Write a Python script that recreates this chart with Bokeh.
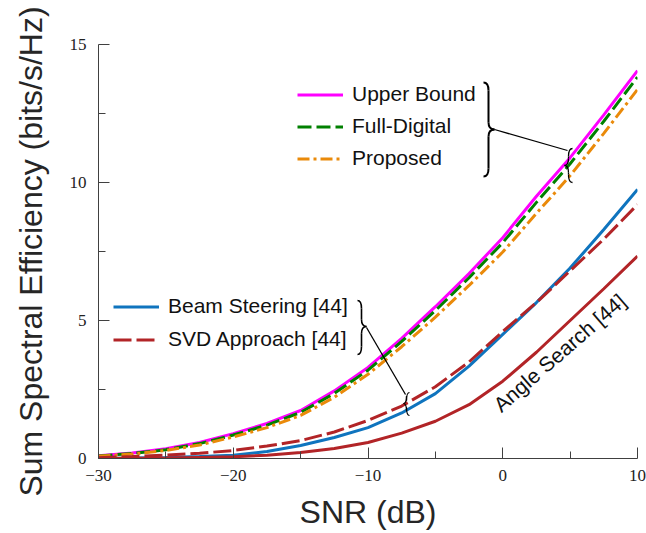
from bokeh.plotting import figure
from bokeh.models import Range1d, FixedTicker, Legend, LegendItem
from bokeh.core.properties import value
from bokeh.embed import file_html
from bokeh.resources import INLINE

# ---------------- data ----------------
snr_db = [-30, -27.5, -25, -22.5, -20, -17.5, -15, -12.5, -10, -7.5, -5, -2.5, 0, 2.5, 5, 7.5, 10]

upper_bound   = [0.10, 0.20, 0.35, 0.58, 0.90, 1.27, 1.74, 2.45, 3.30, 4.35, 5.50, 6.70, 8.00, 9.50, 10.90, 12.45, 14.05]
full_digital  = [0.09, 0.18, 0.32, 0.54, 0.85, 1.21, 1.67, 2.36, 3.20, 4.24, 5.36, 6.55, 7.82, 9.28, 10.68, 12.22, 13.82]
proposed      = [0.08, 0.16, 0.29, 0.49, 0.78, 1.12, 1.56, 2.22, 3.05, 4.05, 5.12, 6.27, 7.48, 8.88, 10.25, 11.78, 13.37]
beam_steering = [0.01, 0.02, 0.04, 0.07, 0.12, 0.25, 0.47, 0.76, 1.12, 1.65, 2.35, 3.35, 4.50, 5.65, 6.90, 8.30, 9.75]
svd_approach  = [0.03, 0.07, 0.12, 0.19, 0.29, 0.45, 0.65, 0.96, 1.38, 1.90, 2.60, 3.50, 4.60, 5.65, 6.80, 7.95, 9.20]
angle_search  = [0.00, 0.01, 0.02, 0.04, 0.06, 0.12, 0.22, 0.36, 0.58, 0.92, 1.35, 1.95, 2.80, 3.85, 5.00, 6.15, 7.33]

x_ticks = [-30, -20, -10, 0, 10]
x_minor = [-25, -15, -5, 5]
y_ticks = [0, 5, 10, 15]
y_minor = [2.5, 7.5, 12.5]

labels_top = ["Upper Bound", "Full-Digital", "Proposed"]
labels_bottom = ["Beam Steering [44]", "SVD Approach [44]"]
curve_note = "Angle Search [44]"

# ---------------- styling ----------------
MAGENTA = "#FF00FF"
GREEN = "#008000"
ORANGE = "#EA8A0A"
BLUE = "#0F74BE"
RED = "#B22427"
AXIS = "#404040"
SANS = "Liberation Sans"
SERIF = "Liberation Serif"

p = figure(width=646, height=533, x_range=Range1d(-30, 10), y_range=Range1d(0, 15),
           output_backend="svg", toolbar_location=None,
           min_border_left=98, min_border_right=9, min_border_top=44, min_border_bottom=75)
p.outline_line_color = None
p.xgrid.visible = False
p.ygrid.visible = False
p.background_fill_color = "white"

# axes
for ax, ticks, minor in ((p.xaxis[0], x_ticks, x_minor), (p.yaxis[0], y_ticks, y_minor)):
    ax.ticker = FixedTicker(ticks=ticks, minor_ticks=minor)
    ax.major_tick_in = 11
    ax.major_tick_out = 0
    ax.minor_tick_in = 7
    ax.minor_tick_out = 0
    ax.axis_line_color = AXIS
    ax.major_tick_line_color = AXIS
    ax.minor_tick_line_color = AXIS
    ax.major_label_text_font = SERIF
    ax.major_label_text_font_size = "17px"
    ax.major_label_text_color = "#222222"
    ax.axis_label_text_font = SANS
    ax.axis_label_text_font_size = "32px"
    ax.axis_label_text_font_style = "normal"
    ax.axis_label_text_color = "#262626"
    ax.major_label_overrides = {t: (str(t).replace("-", "\u2212")) for t in ticks}

p.xaxis.axis_label = "SNR (dB)"
p.yaxis.axis_label = "Sum Spectral Efficiency (bits/s/Hz)"
p.xaxis.major_label_standoff = 11
p.yaxis.major_label_standoff = 12
p.xaxis.axis_label_standoff = 10
p.yaxis.axis_label_standoff = 18

# curves
LW = 3
r_ub = p.line(snr_db, upper_bound, line_color=MAGENTA, line_width=LW)
r_fd = p.line(snr_db, full_digital, line_color=GREEN, line_width=LW, line_dash="14 5")
r_pr = p.line(snr_db, proposed, line_color=ORANGE, line_width=LW, line_dash="12 4 3 4")
r_bs = p.line(snr_db, beam_steering, line_color=BLUE, line_width=LW)
r_svd = p.line(snr_db, svd_approach, line_color=RED, line_width=LW, line_dash="18 5")
r_as = p.line(snr_db, angle_search, line_color=RED, line_width=LW)

# legends
def make_legend(items, loc, spacing):
    lg = Legend(items=items, location=loc, padding=0, margin=0, spacing=spacing,
                glyph_width=46, glyph_height=23, label_height=23, label_standoff=9,
                label_text_font=SANS, label_text_font_size="21px", label_text_color="#111111",
                background_fill_alpha=0, border_line_color=None)
    return lg

leg1 = make_legend([LegendItem(label=labels_top[0], renderers=[r_ub]),
                    LegendItem(label=labels_top[1], renderers=[r_fd]),
                    LegendItem(label=labels_top[2], renderers=[r_pr])], (199, 288), 8)
leg2 = make_legend([LegendItem(label=labels_bottom[0], renderers=[r_bs]),
                    LegendItem(label=labels_bottom[1], renderers=[r_svd])], (15, 107), 9)
p.add_layout(leg1)
p.add_layout(leg2)

# ---------------- annotations (braces, connectors, curve note) ----------------
def dx(xp):
    return -30 + (xp - 98) / 13.475

def dy(yp):
    return (458 - yp) / 27.6

def brace(xl, xm, xt, yt, yb, ym, lw=1.6):
    k = 4.0
    bz = [
        (xl, yt, xm, yt + k * 2, xl + (xm - xl) * 0.7, yt, xm, yt + k * 0.7),
        (xm, ym - k * 1.8, xt, ym, xm, ym - k * 0.4, xt - (xt - xm) * 0.5, ym),
        (xt, ym, xm, ym + k * 1.8, xt - (xt - xm) * 0.5, ym, xm, ym + k * 0.4),
        (xm, yb - k * 2, xl, yb, xm, yb - k * 0.7, xl + (xm - xl) * 0.7, yb),
    ]
    p.bezier(x0=[dx(b[0]) for b in bz], y0=[dy(b[1]) for b in bz],
             x1=[dx(b[2]) for b in bz], y1=[dy(b[3]) for b in bz],
             cx0=[dx(b[4]) for b in bz], cy0=[dy(b[5]) for b in bz],
             cx1=[dx(b[6]) for b in bz], cy1=[dy(b[7]) for b in bz],
             line_color="black", line_width=lw)
    p.segment(x0=[dx(xm), dx(xm)], y0=[dy(yt + k * 2), dy(ym + k * 1.8)],
              x1=[dx(xm), dx(xm)], y1=[dy(ym - k * 1.8), dy(yb - k * 2)],
              line_color="black", line_width=lw)

# top group
brace(483, 488, 494, 82, 176, 129, lw=2.0)
brace(572, 568, 564, 148, 182, 165, lw=1.3)
p.segment(x0=[dx(494)], y0=[dy(129)], x1=[dx(567)], y1=[dy(150)], line_color="black", line_width=1.3)
# bottom group
brace(357, 361, 366, 300, 354, 326, lw=1.6)
brace(409, 406, 403, 392, 415, 403, lw=1.2)
p.segment(x0=[dx(366)], y0=[dy(327)], x1=[dx(405)], y1=[dy(394)], line_color="black", line_width=1.3)

p.text(x=[dx(496)], y=[dy(407)], text=[curve_note], angle=0.716,
       text_font=value(SANS), text_font_size="21px", text_color="#111111",
       text_align="left", text_baseline="alphabetic")

open("out.html", "w").write(file_html(p, INLINE))
